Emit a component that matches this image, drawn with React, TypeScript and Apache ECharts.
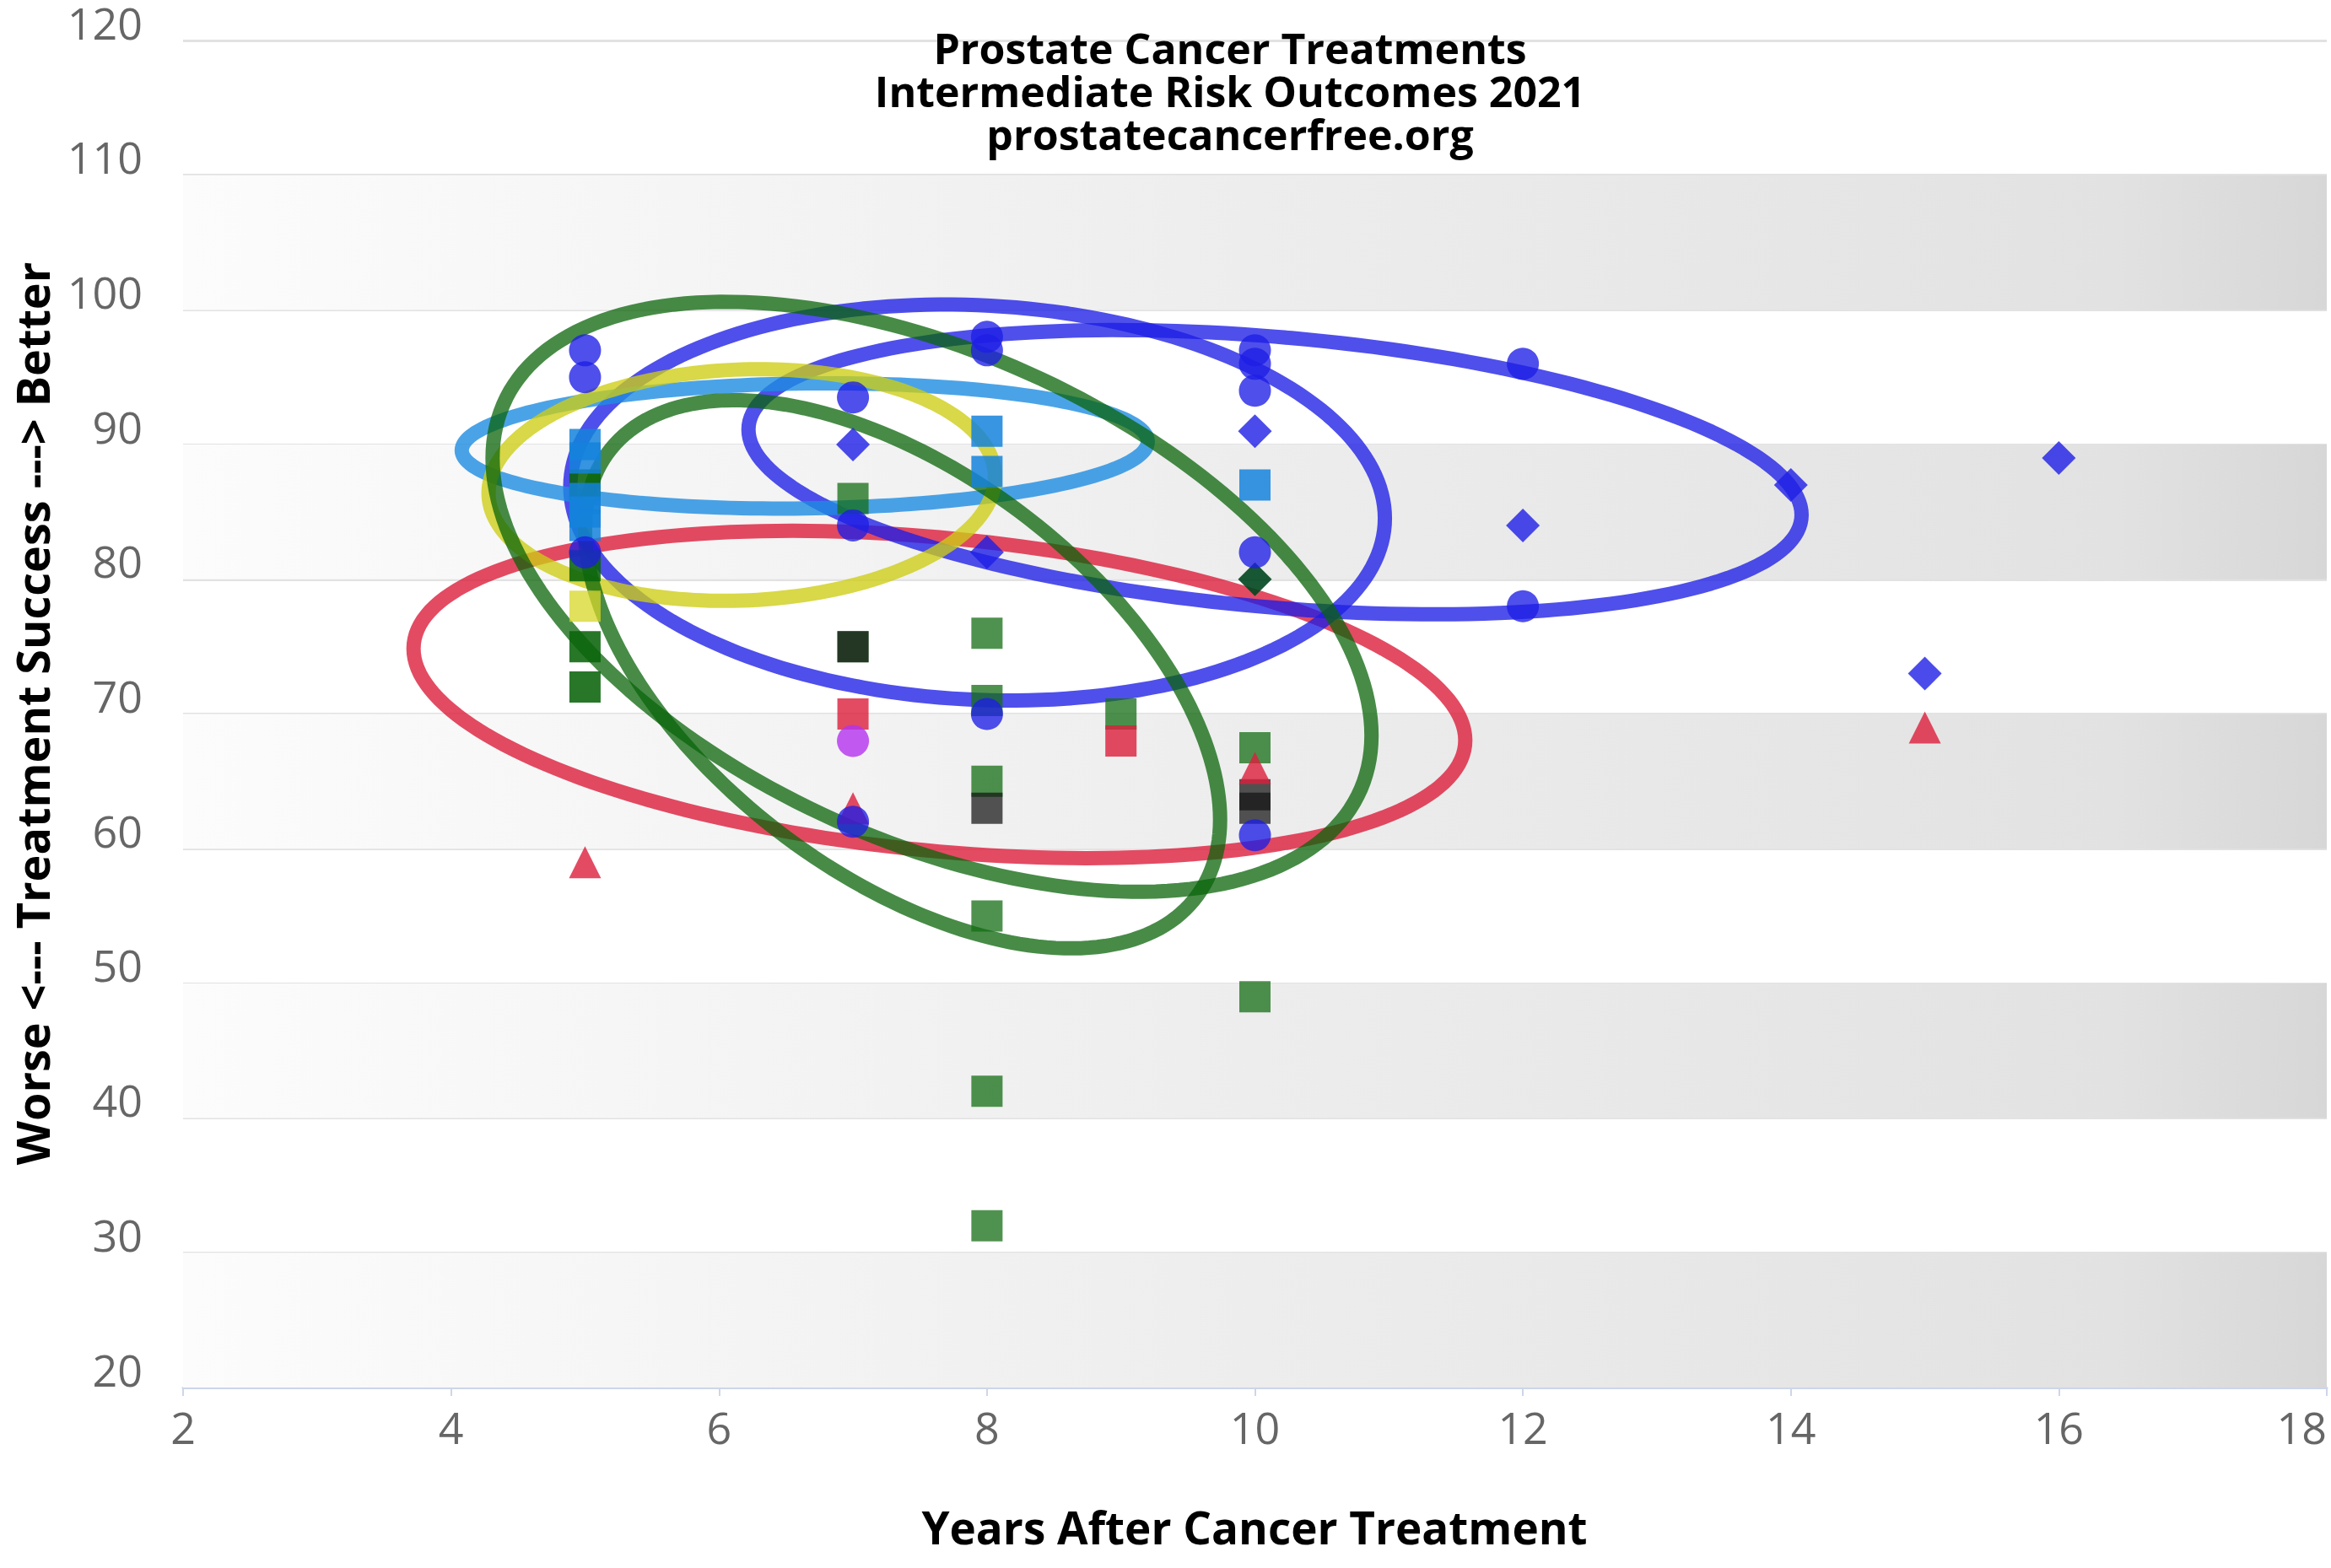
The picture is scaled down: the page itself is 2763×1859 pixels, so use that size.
import React, { useEffect, useRef } from 'react';
import * as echarts from 'echarts';

// ---------- data ----------
const xMin = 2;
const xMax = 18;
const xStep = 2;
const yMin = 20;
const yMax = 120;
const yStep = 10;

const titleLines = ['Prostate Cancer Treatments', 'Intermediate Risk Outcomes 2021', 'prostatecancerfree.org'];
const xAxisTitle = 'Years After Cancer Treatment';
const yAxisTitle = 'Worse <--- Treatment Success ---> Better';

// shaded plot bands (value ranges on the y axis)
const bandFrom = [20, 40, 60, 80, 100];
const bandTo = [30, 50, 70, 90, 110];

// [years, success]
const blueCircles = [[5, 97], [5, 95], [5, 82], [7, 93.5], [7, 84], [7, 62], [8, 98], [8, 97], [8, 70], [10, 97], [10, 96], [10, 94], [10, 82], [10, 61], [12, 96], [12, 78]];
const blueDiamonds = [[7, 90], [8, 82], [10, 91], [12, 84], [14, 87], [15, 73], [16, 89]];
const lightBlueSquares = [[5, 90], [5, 89], [5, 86], [5, 85], [5, 84], [8, 91], [8, 88], [10, 87]];
const darkGreenSquares = [[5, 87], [5, 81], [5, 75], [5, 72]];
const greenSquares = [[7, 86], [7, 75], [8, 76], [8, 71], [8, 65], [8, 55], [8, 42], [8, 32], [9, 70], [10, 67.5], [10, 49]];
const blackSquares = [[7, 75], [8, 63], [10, 64], [10, 63]];
const redTriangles = [[5, 59], [7, 63], [10, 66], [15, 69]];
const redSquares = [[7, 70], [9, 68]];
const purpleCircles = [[7, 68]];
const darkGreenDiamonds = [[10, 80]];
const yellowSquares = [[5, 78]];

// outcome ellipses: centre, half-extents (data units) and x/y correlation
const ellipseNames = ['Red group', 'Blue group A', 'Blue group B', 'Light blue group', 'Yellow group', 'Green group 1', 'Green group 2'];
const ellipseCx = [7.645, 7.93, 10.15, 6.64, 6.17, 7.59, 7.37];
const ellipseCy = [71.45, 85.7, 87.95, 89.9, 87.0, 78.7, 72.95];
const ellipseRx = [3.925, 3.04, 3.93, 2.56, 1.89, 3.28, 2.37];
const ellipseRy = [12.15, 14.7, 10.55, 4.65, 8.6, 21.9, 20.35];
const ellipseRho = [-0.28, -0.08, -0.3, 0.07, 0.07, -0.47, -0.53];

// ---------- styles ----------
const ellipseStroke = [
  'rgba(220,30,60,0.8)',
  'rgba(30,30,230,0.78)',
  'rgba(30,30,230,0.78)',
  'rgba(30,140,225,0.8)',
  'rgba(205,205,20,0.78)',
  'rgba(10,100,10,0.75)',
  'rgba(10,100,10,0.75)',
];

const markerDefs = [
  { name: 'Yellow squares', data: yellowSquares, symbol: 'rect', size: 37, color: 'rgba(215,215,40,0.75)' },
  { name: 'Dark green squares', data: darkGreenSquares, symbol: 'rect', size: 37, color: 'rgba(10,100,10,0.88)' },
  { name: 'Green squares', data: greenSquares, symbol: 'rect', size: 37, color: 'rgba(20,110,20,0.75)' },
  { name: 'Black squares', data: blackSquares, symbol: 'rect', size: 37, color: 'rgba(20,20,20,0.72)' },
  { name: 'Light blue squares', data: lightBlueSquares, symbol: 'rect', size: 37, color: 'rgba(20,130,220,0.85)' },
  { name: 'Red squares', data: redSquares, symbol: 'rect', size: 37, color: 'rgba(220,30,60,0.8)' },
  { name: 'Red triangles', data: redTriangles, symbol: 'triangle', size: 38, color: 'rgba(220,30,60,0.8)' },
  { name: 'Purple circles', data: purpleCircles, symbol: 'circle', size: 38, color: 'rgba(180,50,240,0.8)' },
  { name: 'Dark green diamonds', data: darkGreenDiamonds, symbol: 'diamond', size: 40, color: 'rgba(0,70,30,0.9)' },
  { name: 'Blue diamonds', data: blueDiamonds, symbol: 'diamond', size: 40, color: 'rgba(30,30,230,0.8)' },
  { name: 'Blue circles', data: blueCircles, symbol: 'circle', size: 38, color: 'rgba(30,30,230,0.78)' },
];

const W = 2763;
const H = 1859;
const GRID = { left: 217, right: 5, top: 46, bottom: 214 };

const tickFont = 'Open Sans';
const titleFont = '"Open Sans", "DejaVu Sans", sans-serif';

export default function App() {
  const ref = useRef<HTMLDivElement>(null);

  useEffect(() => {
    if (!ref.current) return;
    const chart = echarts.init(ref.current, undefined, { renderer: 'svg' });

    const bandGradient = {
      type: 'linear',
      x: 0, y: 0, x2: 1, y2: 0,
      colorStops: [
        { offset: 0, color: '#fcfcfc' },
        { offset: 0.5, color: '#ededed' },
        { offset: 0.9, color: '#e2e2e2' },
        { offset: 1, color: '#d7d7d7' },
      ],
    };

    const bandSeries = {
      type: 'line',
      name: 'bands',
      data: [],
      silent: true,
      z: -1,
      markArea: {
        silent: true,
        itemStyle: { color: bandGradient },
        data: bandFrom.map((f, i) => [{ yAxis: f }, { yAxis: bandTo[i] }]),
      },
    };

    const ellipseSeries = {
      type: 'custom',
      name: 'Ellipses',
      silent: true,
      clip: false,
      z: 2,
      data: ellipseCx.map((cx, i) => [cx, ellipseCy[i], i, ellipseNames[i]]),
      encode: { x: 0, y: 1 },
      renderItem: (params: any, api: any) => {
        const i = api.value(2);
        const rho = ellipseRho[i];
        const k = Math.sqrt(1 - rho * rho);
        const pts: number[][] = [];
        const n = 200;
        for (let s = 0; s < n; s++) {
          const t = (s / n) * Math.PI * 2;
          const c = Math.cos(t);
          const sn = Math.sin(t);
          pts.push(api.coord([ellipseCx[i] + ellipseRx[i] * c, ellipseCy[i] + ellipseRy[i] * (rho * c + k * sn)]));
        }
        return {
          type: 'polygon',
          shape: { points: pts },
          style: { fill: 'transparent', stroke: ellipseStroke[i], lineWidth: 17 },
        };
      },
    };

    const scatterSeries = markerDefs.map((m) => ({
      type: 'scatter',
      name: m.name,
      data: m.data,
      symbol: m.symbol,
      symbolSize: m.size,
      z: 3,
      itemStyle: { color: m.color, opacity: 1 },
      emphasis: { disabled: true },
    }));

    chart.setOption({
      animation: false,
      backgroundColor: '#ffffff',
      grid: GRID,
      xAxis: {
        type: 'value',
        min: xMin,
        max: xMax,
        interval: xStep,
        axisLine: { show: true, lineStyle: { color: '#ccd6eb', width: 3 } },
        axisTick: { show: true, length: 10, lineStyle: { color: '#ccd6eb', width: 2 } },
        splitLine: { show: false },
        axisLabel: {
          fontFamily: tickFont,
          fontSize: 52,
          color: '#666666',
          margin: 20,
          alignMaxLabel: 'right',
        },
      },
      yAxis: {
        type: 'value',
        min: yMin,
        max: yMax,
        interval: yStep,
        axisLine: { show: false },
        axisTick: { show: false },
        splitLine: { show: true, lineStyle: { color: '#e2e2e2', width: 3 } },
        axisLabel: {
          fontFamily: tickFont,
          fontSize: 52,
          color: '#666666',
          margin: 48,
          verticalAlign: 'bottom',
          lineHeight: 44,
        },
      },
      graphic: [
        {
          type: 'text',
          x: 1458,
          y: 108,
          style: {
            text: titleLines.join('\n'),
            fontFamily: titleFont,
            fontSize: 50,
            lineHeight: 51,
            fontWeight: 'bold',
            fill: '#000000',
            textAlign: 'center',
            textVerticalAlign: 'middle',
          },
          z: 10,
        },
        {
          type: 'text',
          x: 1487,
          y: 1810,
          style: {
            text: xAxisTitle,
            fontFamily: titleFont,
            fontSize: 53,
            fontWeight: 'bold',
            fill: '#000000',
            textAlign: 'center',
            textVerticalAlign: 'middle',
          },
        },
        {
          type: 'text',
          x: 38,
          y: 846,
          rotation: Math.PI / 2,
          style: {
            text: yAxisTitle,
            fontFamily: titleFont,
            fontSize: 54,
            fontWeight: 'bold',
            fill: '#000000',
            textAlign: 'center',
            textVerticalAlign: 'middle',
          },
        },
      ],
      series: [bandSeries, ellipseSeries, ...scatterSeries],
    });

    return () => {
      chart.dispose();
    };
  }, []);

  return (
    <div
      ref={ref}
      style={{ position: 'fixed', left: 0, top: 0, width: W + 'px', height: H + 'px', background: '#ffffff' }}
    />
  );
}
